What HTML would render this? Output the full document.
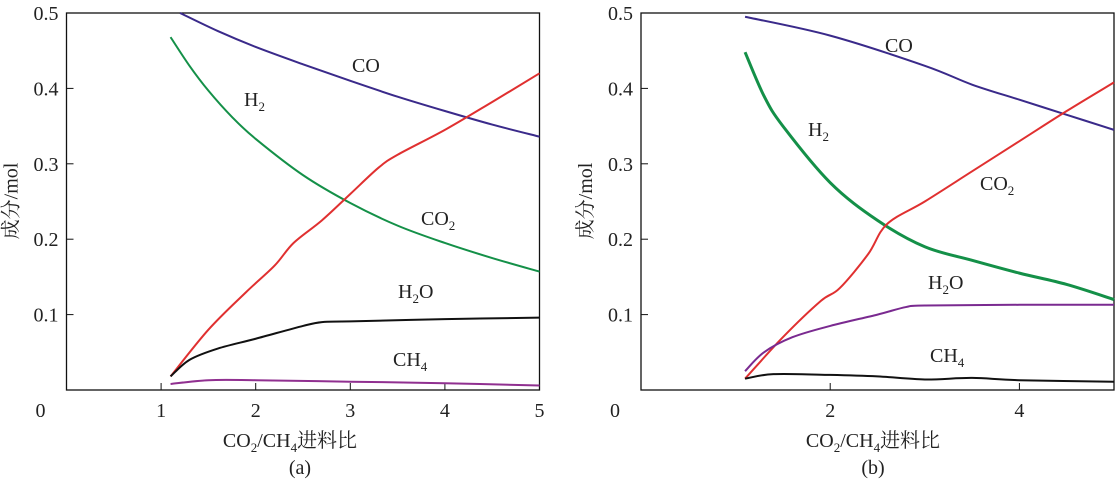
<!DOCTYPE html>
<html><head><meta charset="utf-8"><style>
body{margin:0;background:#fff}
svg text{font-family:"Liberation Serif","Noto Serif CJK SC",serif;fill:#222}
</style></head><body>
<svg width="1115" height="482" viewBox="0 0 1115 482">
<g id="root"></g>
</svg>
<script>
const xs_a_co=[1.2,1.6,2,2.5,3,3.5,4,4.5,5];
const ys_a_co=[0.5,0.476,0.455,0.432,0.41,0.389,0.37,0.352,0.336];
const xs_a_h2=[1.1,1.3,1.5,1.75,2,2.5,3,3.5,4,4.5,5];
const ys_a_h2=[0.468,0.43,0.397,0.362,0.333,0.285,0.248,0.218,0.195,0.175,0.157];
const xs_a_co2=[1.1,1.5,1.9,2.2,2.4,2.7,3,3.3,3.5,4,4.5,5];
const ys_a_co2=[0.018,0.08,0.13,0.165,0.195,0.225,0.26,0.295,0.312,0.345,0.382,0.42];
const xs_a_h2o=[1.1,1.3,1.6,2,2.5,2.7,3,4,5];
const ys_a_h2o=[0.018,0.04,0.055,0.068,0.085,0.09,0.091,0.094,0.096];
const xs_a_ch4=[1.1,1.5,2,3,4,5];
const ys_a_ch4=[0.008,0.013,0.013,0.011,0.009,0.006];
const xs_b_co=[1.1,2,3,3.5,4,4.5,5];
const ys_b_co=[0.495,0.47,0.43,0.405,0.385,0.365,0.345];
const xs_b_h2=[1.1,1.3,1.5,2,2.5,3,3.5,4,4.5,5];
const ys_b_h2=[0.448,0.39,0.35,0.275,0.225,0.19,0.172,0.155,0.14,0.12];
const xs_b_co2=[1.1,1.5,1.9,2.1,2.4,2.6,3,3.5,4,4.5,5];
const ys_b_co2=[0.015,0.07,0.118,0.135,0.18,0.22,0.25,0.29,0.33,0.37,0.408];
const xs_b_h2o=[1.1,1.3,1.6,2,2.5,2.8,3,4,5];
const ys_b_h2o=[0.025,0.05,0.07,0.085,0.1,0.11,0.112,0.113,0.113];
const xs_b_ch4=[1.1,1.4,2,2.5,3,3.5,4,5];
const ys_b_ch4=[0.015,0.021,0.02,0.018,0.014,0.016,0.013,0.011];
const yTicks=[0.1,0.2,0.3,0.4,0.5];
const xTicksA=[1,2,3,4,5];
const xTicksB=[2,4];

const NS="http://www.w3.org/2000/svg";
const root=document.getElementById('root');
function el(tag,attrs,parent){const e=document.createElementNS(NS,tag);for(const k in attrs)e.setAttribute(k,attrs[k]);(parent||root).appendChild(e);return e;}
function smooth(pts){let d=`M${pts[0][0]},${pts[0][1]}`;for(let i=0;i<pts.length-1;i++){const p0=pts[i-1]||pts[i],p1=pts[i],p2=pts[i+1],p3=pts[i+2]||p2;d+=` C${p1[0]+(p2[0]-p0[0])/6},${p1[1]+(p2[1]-p0[1])/6} ${p2[0]-(p3[0]-p1[0])/6},${p2[1]-(p3[1]-p1[1])/6} ${p2[0]},${p2[1]}`;}return d;}
function panel(name,x0,xTicks,series,labels,cap,capX,capCX){
  const g=el('g',{});
  
  
  const ux=94.6,top=13,bot=390,x1=x0+5*ux;
  const X=v=>x0+v*ux, Y=v=>bot-(bot-top)*v/0.5;
  const box=el('rect',{x:x0,y:top,width:x1-x0,height:bot-top,fill:'none',stroke:'#111','stroke-width':1.3},g);
  
  yTicks.forEach(t=>{el('line',{x1:x0,x2:x0+7,y1:Y(t),y2:Y(t),stroke:'#111'},g);
    const tx=el('text',{x:x0-8,y:Y(t)+7,'font-size':20,'text-anchor':'end'},g);tx.textContent=t.toFixed(1);
    });
  const z=el('text',{x:x0-26,y:417,'font-size':20,'text-anchor':'middle'},g);z.textContent='0';
  xTicks.forEach(t=>{el('line',{x1:X(t),x2:X(t),y1:bot,y2:bot-7,stroke:'#111'},g);
    const tx=el('text',{x:X(t),y:417,'font-size':20,'text-anchor':'middle'},g);tx.textContent=t;
    });
  series.forEach(s=>{const p=el('path',{d:smooth(s[0].map((v,i)=>[X(v),Y(s[1][i])])),fill:'none',stroke:s[2],'stroke-width':s[4]||2},g);
    });
  labels.forEach(l=>{const t=el('text',{x:l[1],y:l[2],'font-size':20},g);t.innerHTML=l[0];
    });
  const xt=el('text',{x:capX,y:447,'font-size':20,'text-anchor':'middle'},g);
  xt.innerHTML='CO<tspan font-size="13" dy="5">2</tspan><tspan dy="-5">/CH</tspan><tspan font-size="13" dy="5">4</tspan><tspan dy="-5">进料比</tspan>';
  
  const yt=el('text',{transform:`translate(${x0-49},201) rotate(-90)`,'font-size':20,'text-anchor':'middle'},g);yt.textContent='成分/mol';
  
  const c=el('text',{x:capCX,y:474,'font-size':20,'text-anchor':'middle'},g);c.textContent=cap;
  
}
const sub=(a,b)=>a+'<tspan font-size="13" dy="5">'+b+'</tspan>';
panel('panel-a',66.5,xTicksA,[
 [xs_a_co,ys_a_co,'#3a2a8a','co-line'],[xs_a_h2,ys_a_h2,'#149048','h2-line'],
 [xs_a_co2,ys_a_co2,'#e03030','co2-line'],[xs_a_h2o,ys_a_h2o,'#111','h2o-line'],
 [xs_a_ch4,ys_a_ch4,'#903090','ch4-line']],
 [['CO',352,72],[sub('H','2'),244,106],[sub('CO','2'),421,225],[sub('H','2')+'<tspan dy="-5">O</tspan>',398,298],[sub('CH','4'),393,366]],'(a)',290,300);
panel('panel-b',641,xTicksB,[
 [xs_b_co,ys_b_co,'#3a2a8a','co-line'],[xs_b_h2,ys_b_h2,'#149048','h2-line',3],
 [xs_b_co2,ys_b_co2,'#e03030','co2-line'],[xs_b_h2o,ys_b_h2o,'#7a2a90','h2o-line'],
 [xs_b_ch4,ys_b_ch4,'#111','ch4-line']],
 [['CO',885,52],[sub('H','2'),808,136],[sub('CO','2'),980,190],[sub('H','2')+'<tspan dy="-5">O</tspan>',928,289],[sub('CH','4'),930,362]],'(b)',873,873);
</script>
</body></html>
